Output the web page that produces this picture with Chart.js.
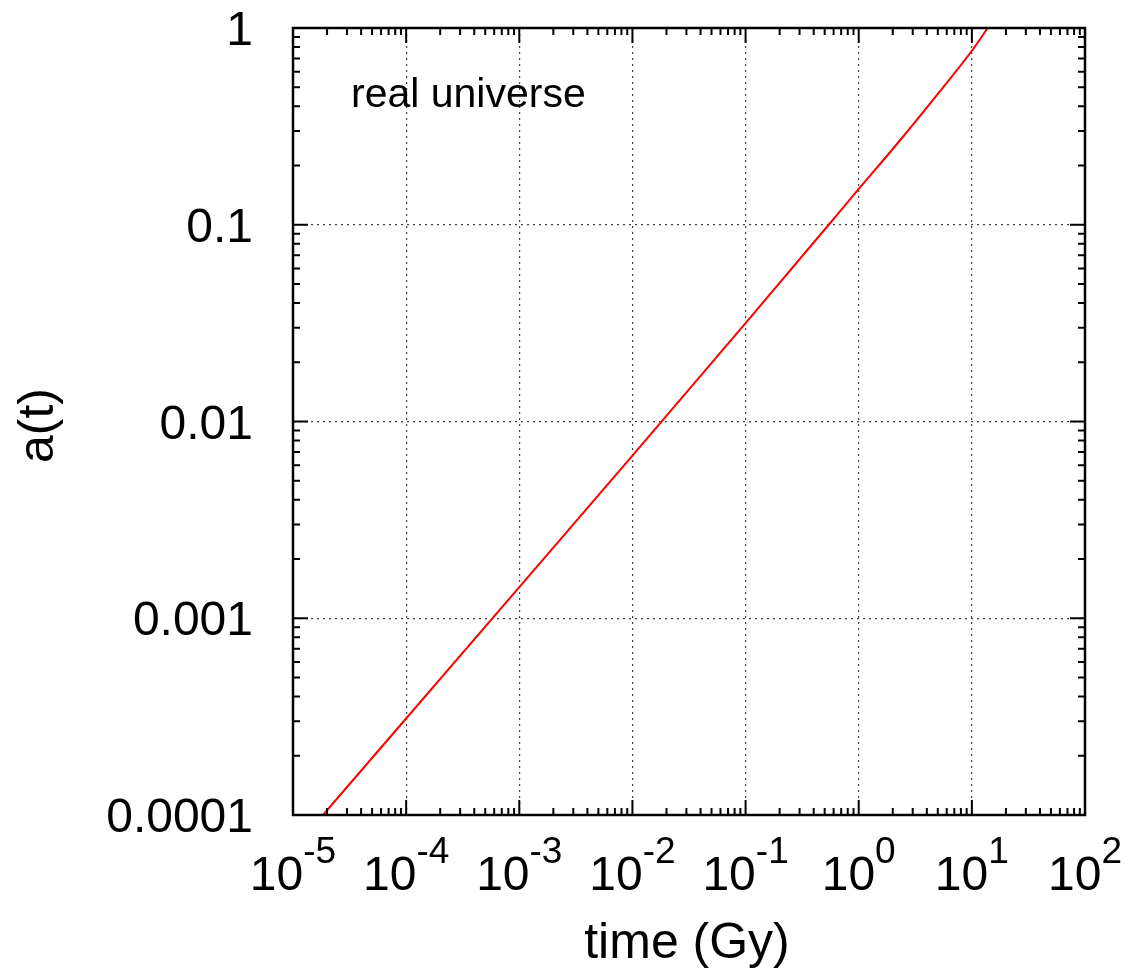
<!DOCTYPE html>
<html>
<head>
<meta charset="utf-8">
<script src="https://cdn.jsdelivr.net/npm/chart.js@4.4.1/dist/chart.umd.min.js"></script>
<style>
    body { margin: 0; background: #fff; }
</style>
</head>
<body>
<canvas id="chart" width="1132" height="976"></canvas>
<script>
// values (log-log)
const timeGy = [1.84e-5, 1e-3, 1e-2, 0.1, 0.543, 1, 2.36, 5.32, 10, 13.8];
const scaleA = [1e-4, 1.44e-3, 6.7e-3, 0.0316, 0.1, 0.152, 0.272, 0.483, 0.766, 1];

const xTickExps = [-5, -4, -3, -2, -1, 0, 1, 2];
const yTickValues = [1e-4, 1e-3, 1e-2, 0.1, 1];
const yTickLabels = ['0.0001', '0.001', '0.01', '0.1', '1'];

const xTitle = 'time (Gy)';
const yTitle = 'a(t)';
const note = 'real universe';

const FONT = '"Liberation Sans", Arial, Helvetica, sans-serif';

function isDecade(v) {
    if (!v) return false;
    const l = Math.log10(v);
    return Math.abs(l - Math.round(l)) < 1e-9;
}

const framePlugin = {
    id: 'frame',
    afterDraw(chart) {
        const ctx = chart.ctx;
        const a = chart.chartArea;
        const xs = chart.scales.x, ys = chart.scales.y;
        ctx.save();
        ctx.strokeStyle = '#000';

        // inward ticks on all four sides
        ctx.lineWidth = 2;
        ctx.beginPath();
        for (let d = -5; d < 2; d++) {
            for (let m = 1; m <= 10; m++) {
                const v = m * Math.pow(10, d);
                const len = (m === 1 || m === 10) ? 15 : 7;
                const px = xs.getPixelForValue(v);
                ctx.moveTo(px, a.bottom); ctx.lineTo(px, a.bottom - len);
                ctx.moveTo(px, a.top); ctx.lineTo(px, a.top + len);
            }
        }
        for (let d = -4; d < 0; d++) {
            for (let m = 1; m <= 10; m++) {
                const v = m * Math.pow(10, d);
                const len = (m === 1 || m === 10) ? 15 : 7;
                const py = ys.getPixelForValue(v);
                ctx.moveTo(a.left, py); ctx.lineTo(a.left + len, py);
                ctx.moveTo(a.right, py); ctx.lineTo(a.right - len, py);
            }
        }
        ctx.stroke();

        ctx.lineWidth = 2.5;
        ctx.strokeRect(a.left, a.top, a.right - a.left, a.bottom - a.top);

        ctx.fillStyle = '#000';

        // y tick labels
        ctx.font = '48px ' + FONT;
        ctx.textAlign = 'right';
        ctx.textBaseline = 'alphabetic';
        yTickValues.forEach((v, i) => {
            ctx.fillText(yTickLabels[i], a.left - 40, ys.getPixelForValue(v) + 17);
        });

        // x tick labels as 10^n
        xTickExps.forEach(e => {
            const px = xs.getPixelForValue(Math.pow(10, e));
            ctx.font = '48px ' + FONT;
            const base = '10';
            const wb = ctx.measureText(base).width;
            ctx.font = '37px ' + FONT;
            const ex = String(e);
            const we = ctx.measureText(ex).width;
            const x0 = px - (wb + we) / 2;
            ctx.textAlign = 'left';
            ctx.font = '48px ' + FONT;
            ctx.fillText(base, x0, 890);
            ctx.font = '37px ' + FONT;
            ctx.fillText(ex, x0 + wb, 863);
        });

        // axis titles
        ctx.font = '50px ' + FONT;
        ctx.textAlign = 'center';
        ctx.fillText(xTitle, (a.left + a.right) / 2 - 2, 958);

        ctx.save();
        ctx.translate(53, (a.top + a.bottom) / 2 + 4);
        ctx.rotate(-Math.PI / 2);
        ctx.fillText(yTitle, 0, 0);
        ctx.restore();

        // key text
        ctx.font = '41px ' + FONT;
        ctx.textAlign = 'left';
        ctx.fillText(note, 351, 107);

        ctx.restore();
    }
};

const points = timeGy.map((t, i) => ({ x: t, y: scaleA[i] }));

new Chart(document.getElementById('chart').getContext('2d'), {
    type: 'line',
    data: {
        datasets: [{
            label: note,
            data: points,
            borderColor: '#ff0000',
            borderWidth: 2,
            pointRadius: 0,
            fill: false,
            cubicInterpolationMode: 'monotone'
        }]
    },
    options: {
        responsive: false,
        animation: false,
        layout: { padding: { left: 0, top: 28, right: 47, bottom: 0 } },
        plugins: { legend: { display: false }, tooltip: { enabled: false } },
        scales: {
            x: {
                type: 'logarithmic',
                min: 1e-5,
                max: 100,
                ticks: { display: false, autoSkip: false },
                grid: {
                    drawTicks: false,
                    lineWidth: 1.2,
                    color: ctx => isDecade(ctx.tick && ctx.tick.value) ? '#444' : 'rgba(0,0,0,0)'
                },
                border: { display: false, dash: [2, 4] },
                afterFit: s => { s.height = 161; }
            },
            y: {
                type: 'logarithmic',
                min: 1e-4,
                max: 1,
                ticks: { display: false, autoSkip: false },
                grid: {
                    drawTicks: false,
                    lineWidth: 1.2,
                    color: ctx => isDecade(ctx.tick && ctx.tick.value) ? '#444' : 'rgba(0,0,0,0)'
                },
                border: { display: false, dash: [2, 4] },
                afterFit: s => { s.width = 293; }
            }
        }
    },
    plugins: [framePlugin]
});
</script>
</body>
</html>
